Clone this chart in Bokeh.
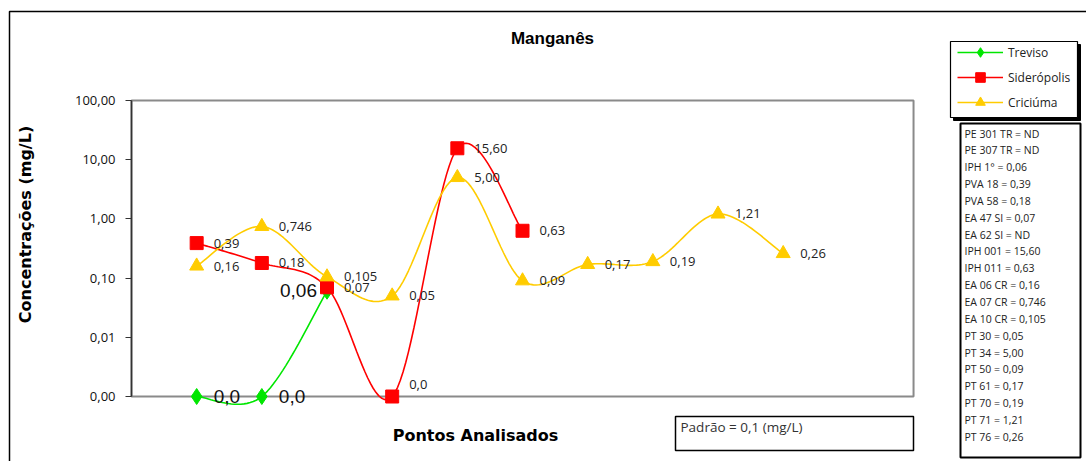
import numpy as np
from bokeh.plotting import figure
from bokeh.models import (ColumnDataSource, LabelSet, Label, BoxAnnotation, Legend,
                          LegendItem, FixedTicker, Range1d)
from bokeh.core.properties import value
from bokeh.embed import file_html
from bokeh.resources import INLINE

# ---------------- data ----------------
title_text = "Manganês"
y_label_text = "Concentrações (mg/L)"
x_label_text = "Pontos Analisados"
padrao_text = "Padrão = 0,1 (mg/L)"

series_names = ["Treviso", "Siderópolis", "Criciúma"]

treviso_x = [1, 2, 3]
treviso_y = [0.001, 0.001, 0.06]
treviso_lbl = ["0,0", "0,0", "0,06"]

sider_x = [1, 2, 3, 4, 5, 6]
sider_y = [0.39, 0.18, 0.07, 0.001, 15.60, 0.63]
sider_lbl = ["0,39", "0,18", "0,07", "0,0", "15,60", "0,63"]

cric_x = [1, 2, 3, 4, 5, 6, 7, 8, 9, 10]
cric_y = [0.16, 0.746, 0.105, 0.05, 5.00, 0.09, 0.17, 0.19, 1.21, 0.26]
cric_lbl = ["0,16", "0,746", "0,105", "0,05", "5,00", "0,09", "0,17", "0,19", "1,21", "0,26"]

y_ticks = [0.001, 0.01, 0.1, 1, 10, 100]
y_tick_labels = ["0,00", "0,01", "0,10", "1,00", "10,00", "100,00"]

notes = ["PE 301 TR = ND", "PE 307 TR = ND", "IPH 1° = 0,06", "PVA 18 = 0,39",
         "PVA 58 = 0,18", "EA 47 SI = 0,07", "EA 62 SI = ND", "IPH 001 = 15,60",
         "IPH 011 = 0,63", "EA 06 CR = 0,16", "EA 07 CR = 0,746", "EA 10 CR = 0,105",
         "PT 30 = 0,05", "PT 34 = 5,00", "PT 50 = 0,09", "PT 61 = 0,17",
         "PT 70 = 0,19", "PT 71 = 1,21", "PT 76 = 0,26"]

# ---------------- layout constants ----------------
W, H = 1086, 461
AXIS_PX = 131          # page x of the value axis
PX_PER_X = 65.17       # pixels per category step
X_BORDER = 12          # right edge of plot area, in category units
TOP_PX, DEC = 100, 59.2  # page y of top tick and pixels per decade
top_log = np.log10(y_ticks[-1]) + TOP_PX / DEC
bot_log = top_log - H / DEC


def sx(px):
    return px


def sy(py):
    return H - py


GREEN = "#00e600"
RED = "#ff0000"
YELLOW = "#ffcc00"
LBL_FONT = "Open Sans"


def smooth(xs, ys, n=24):
    P = np.column_stack([np.asarray(xs, float), np.log10(np.asarray(ys, float))])
    out = [P[0]]
    t = np.linspace(0, 1, n + 1)[1:, None]
    for i in range(len(P) - 1):
        p0 = P[i - 1] if i > 0 else P[i]
        p1, p2 = P[i], P[i + 1]
        p3 = P[i + 2] if i + 2 < len(P) else P[i + 1]
        c1 = p1 + (p2 - p0) / 6
        c2 = p2 - (p3 - p1) / 6
        pts = (1 - t) ** 3 * p1 + 3 * (1 - t) ** 2 * t * c1 + 3 * (1 - t) * t ** 2 * c2 + t ** 3 * p2
        out.extend(pts)
    out = np.array(out)
    return out[:, 0], 10 ** out[:, 1]


p = figure(width=W, height=H, output_backend="svg", toolbar_location=None,
           y_axis_type="log",
           x_range=Range1d(-AXIS_PX / PX_PER_X, (W - AXIS_PX) / PX_PER_X),
           y_range=Range1d(10 ** bot_log, 10 ** top_log), min_border=0)
p.outline_line_color = None
p.background_fill_color = "white"
p.border_fill_color = "white"
p.xgrid.visible = False
p.ygrid.visible = False
p.xaxis.visible = False

ax = p.yaxis[0]
ax.fixed_location = 0
ax.ticker = FixedTicker(ticks=y_ticks, minor_ticks=[])
ax.major_label_overrides = {t: l for t, l in zip(y_ticks, y_tick_labels)}
ax.bounds = (y_ticks[0], y_ticks[-1])
ax.axis_line_color = "#333333"
ax.axis_line_width = 1.5
ax.major_tick_line_color = "#333333"
ax.major_tick_out = 6
ax.major_tick_in = 0
ax.major_label_standoff = 10
ax.major_label_text_font = LBL_FONT
ax.major_label_text_font_size = "13px"
ax.major_label_text_color = "#111111"


def box(l, r, t, b, **kw):
    opts = dict(left_units="screen", right_units="screen", top_units="screen",
                bottom_units="screen", fill_alpha=0, line_color="black", line_alpha=1)
    opts.update(kw)
    p.add_layout(BoxAnnotation(left=sx(l), right=sx(r), top=sy(t), bottom=sy(b), **opts))


# outer chart frame
box(9, 1300, 11, 700, line_width=1.5, level="underlay")

# plot area border
p.add_layout(BoxAnnotation(left=0, right=X_BORDER, bottom=y_ticks[0], top=y_ticks[-1],
                           fill_alpha=0, line_color="#8a8a8a", line_alpha=1, line_width=2,
                           level="underlay"))

# series
renderers = {}
for name, xs, ys, col, marker, size in [
    ("Treviso", treviso_x, treviso_y, GREEN, "diamond", 16),
    ("Siderópolis", sider_x, sider_y, RED, "square", 13),
    ("Criciúma", cric_x, cric_y, YELLOW, "triangle", 14),
]:
    lx, ly = smooth(xs, ys)
    lr = p.line(lx, ly, line_color=col, line_width=1.6)
    sr = p.scatter(xs, ys, marker=marker, size=size, fill_color=col, line_color=col)
    renderers[name] = (lr, sr)


def label_set(xs, ys, texts, idx, font=LBL_FONT, size="13px", **kw):
    src = ColumnDataSource(dict(x=[xs[i] for i in idx], y=[ys[i] for i in idx],
                                t=[texts[i] for i in idx]))
    opts = dict(text_font=value(font), text_font_size=value(size), text_color="#222222",
                text_baseline="middle", x_offset=17, y_offset=0)
    opts.update(kw)
    p.add_layout(LabelSet(x="x", y="y", text="t", source=src, **opts))


label_set(cric_x, cric_y, cric_lbl, range(len(cric_x)))
label_set(sider_x, sider_y, sider_lbl, [0, 1, 2, 4, 5])
label_set(sider_x, sider_y, sider_lbl, [3], y_offset=12)
label_set(treviso_x, treviso_y, treviso_lbl, [0, 1], font="Liberation Sans", size="19px",
          text_color="#111111", y_offset=0)
label_set(treviso_x, treviso_y, treviso_lbl, [2], font="Liberation Sans", size="19px",
          text_color="#111111", text_align="right", x_offset=-10, y_offset=1)

# title and axis titles
p.add_layout(Label(x=sx(552), y=sy(38), x_units="screen", y_units="screen", text=title_text,
                   text_align="center", text_baseline="middle", text_font="Liberation Sans",
                   text_font_style="bold", text_font_size="17px", text_color="black"))
p.add_layout(Label(x=sx(475), y=sy(435), x_units="screen", y_units="screen", text=x_label_text,
                   text_align="center", text_baseline="middle", text_font="DejaVu Sans",
                   text_font_style="bold", text_font_size="16px", text_color="black"))
p.add_layout(Label(x=sx(25), y=sy(224), x_units="screen", y_units="screen", text=y_label_text,
                   angle=np.pi / 2, text_align="center", text_baseline="middle",
                   text_font="DejaVu Sans", text_font_style="bold", text_font_size="16px",
                   text_color="black"))

# legend box with shadow
box(953, 1080, 44, 120, fill_color="black", fill_alpha=1)
box(950, 1077, 41, 117, fill_color="white", fill_alpha=1, line_width=1.2)

items = [LegendItem(label=n, renderers=list(renderers[n])) for n in series_names]
legend = Legend(items=items, location=(sx(950), sy(121)), padding=7, spacing=1,
                label_height=24, glyph_height=24, glyph_width=46, label_standoff=5,
                label_text_font=LBL_FONT, label_text_font_size="12px",
                label_text_color="#222222", border_line_alpha=0, background_fill_alpha=0,
                margin=0)
p.add_layout(legend)

# notes box
box(960, 1080, 123, 457, fill_color="white", fill_alpha=1, line_width=2)
for i, n in enumerate(notes):
    p.add_layout(Label(x=sx(964), y=sy(133 + 16.85 * i), x_units="screen", y_units="screen",
                       text=n, text_baseline="middle", text_font=LBL_FONT,
                       text_font_size="10.5px", text_color="#222222"))

# padrao box
box(675, 913, 416, 450, line_width=1.5)
p.add_layout(Label(x=sx(680), y=sy(426), x_units="screen", y_units="screen", text=padrao_text,
                   text_baseline="middle", text_font=LBL_FONT, text_font_size="13.5px",
                   text_color="#333333"))

open("out.html", "w").write(file_html(p, INLINE))
